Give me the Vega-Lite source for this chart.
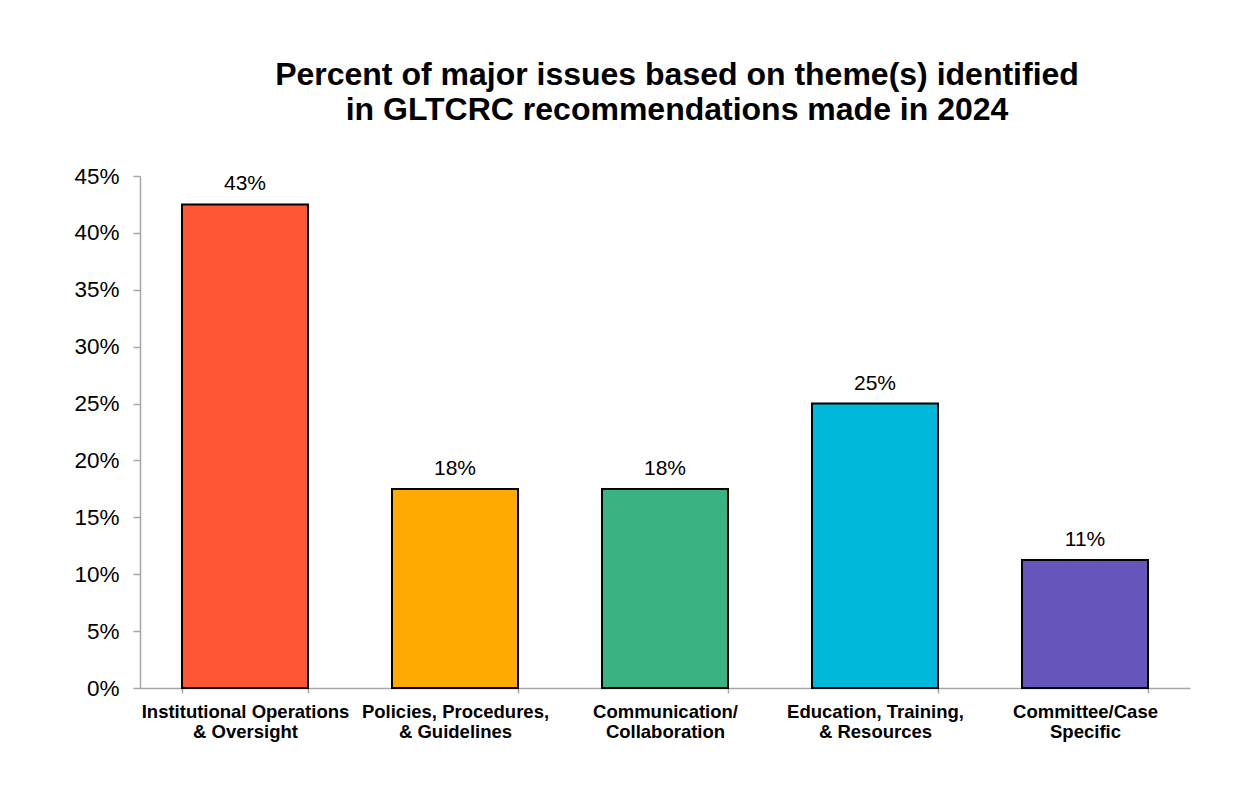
{
  "$schema": "https://vega.github.io/schema/vega-lite/v6.json",
  "width": 1050,
  "height": 512,
  "autosize": {"type": "none"},
  "padding": {"left": 140, "top": 176, "right": 54, "bottom": 107},
  "background": "white",
  "config": {
    "font": "Liberation Sans",
    "view": {"stroke": null}
  },
  "title": {
    "text": ["Percent of major issues based on theme(s) identified", "in GLTCRC recommendations made in 2024"],
    "fontSize": 32,
    "fontWeight": "bold",
    "font": "Liberation Sans",
    "color": "black",
    "anchor": "middle",
    "lineHeight": 35,
    "offset": 38,
    "dx": 12
  },
  "data": {
    "values": [
      {"theme": "Institutional Operations & Oversight", "pct": 0.425},
      {"theme": "Policies, Procedures, & Guidelines", "pct": 0.175},
      {"theme": "Communication/Collaboration", "pct": 0.175},
      {"theme": "Education, Training, & Resources", "pct": 0.25},
      {"theme": "Committee/Case Specific", "pct": 0.1125}
    ]
  },
  "encoding": {
    "x": {
      "field": "theme",
      "type": "nominal",
      "sort": null,
      "scale": {"paddingInner": 0.4, "paddingOuter": 0.2},
      "axis": {
        "title": null,
        "labelAngle": 0,
        "labelFont": "Liberation Sans",
        "labelFontSize": 18.5,
        "labelFontWeight": "bold",
        "labelColor": "black",
        "labelLineHeight": 20,
        "labelPadding": 9,
        "labelLimit": 0,
        "labelOverlap": false,
        "tickBand": "extent",
        "tickSize": 5,
        "tickColor": "#a6a6a6",
        "domainColor": "#a6a6a6",
        "tickWidth": 1.5,
        "domainWidth": 1.5,
        "labelExpr": "!isValid(datum.value) ? '' : datum.value == 'Institutional Operations & Oversight' ? ['Institutional Operations', '& Oversight'] : datum.value == 'Policies, Procedures, & Guidelines' ? ['Policies, Procedures,', '& Guidelines'] : datum.value == 'Communication/Collaboration' ? ['Communication/', 'Collaboration'] : datum.value == 'Education, Training, & Resources' ? ['Education, Training,', '& Resources'] : ['Committee/Case', 'Specific']"
      }
    },
    "y": {
      "field": "pct",
      "type": "quantitative",
      "scale": {"domain": [0, 0.45], "nice": false},
      "axis": {
        "title": null,
        "format": ".0%",
        "values": [0, 0.05, 0.1, 0.15, 0.2, 0.25, 0.3, 0.35, 0.4, 0.45],
        "grid": false,
        "labelFont": "Liberation Sans",
        "labelFontSize": 22.5,
        "labelColor": "black",
        "labelPadding": 14,
        "tickSize": 7,
        "tickColor": "#a6a6a6",
        "domainColor": "#a6a6a6",
        "tickWidth": 1.5,
        "domainWidth": 1.5
      }
    }
  },
  "layer": [
    {
      "mark": {"type": "bar", "stroke": "black", "strokeWidth": 2},
      "encoding": {
        "color": {
          "field": "theme",
          "type": "nominal",
          "sort": null,
          "legend": null,
          "scale": {
            "domain": ["Institutional Operations & Oversight", "Policies, Procedures, & Guidelines", "Communication/Collaboration", "Education, Training, & Resources", "Committee/Case Specific"],
            "range": ["#FF5733", "#FFAA00", "#3AB383", "#00B8D9", "#6655BB"]
          }
        }
      }
    },
    {
      "mark": {"type": "text", "baseline": "alphabetic", "dy": -14, "fontSize": 21, "font": "Liberation Sans", "color": "black"},
      "encoding": {
        "text": {"field": "pct", "type": "quantitative", "format": ".0%"}
      }
    }
  ]
}
